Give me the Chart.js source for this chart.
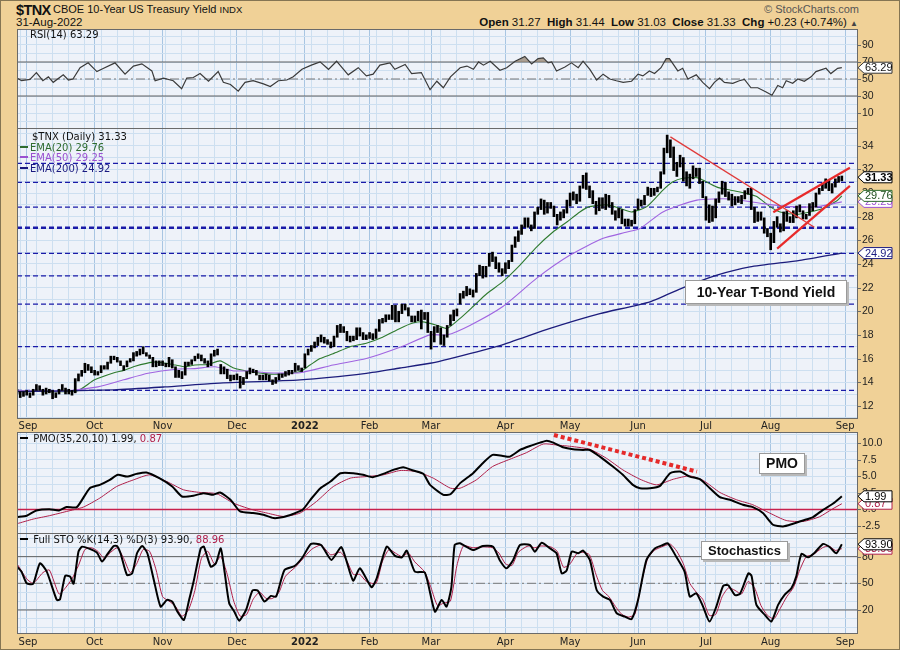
<!DOCTYPE html>
<html>
<head>
<meta charset="utf-8">
<title>$TNX - CBOE 10-Year US Treasury Yield</title>
<script src="https://cdn.jsdelivr.net/npm/chart.js@4.4.1/dist/chart.umd.min.js"></script>
<style>
  html, body { margin: 0; padding: 0; }
  body { width: 900px; height: 650px; background: #f0d197; position: relative; overflow: hidden; font-family: "DejaVu Sans", sans-serif; }
  #outer { position: absolute; left: 0; top: 0; width: 898px; height: 648px; border: 1px solid #857553; pointer-events: none; z-index: 6; }
  canvas { position: absolute; left: 0; }
  .t { position: absolute; white-space: nowrap; z-index: 4; line-height: 14px; color: #111; }
  .legend { font: 10px "DejaVu Sans", sans-serif; line-height: 12px; }
  .mark { display: inline-block; width: 8px; height: 2px; vertical-align: middle; margin-right: 2px; position: relative; top: -1px; }
  .note { position: absolute; box-sizing: border-box; background: #fff; border: 1px solid #9a9a9a; box-shadow: 2px 2px 0 #b9b9b9;
          font: bold 14px "Liberation Sans", Arial, sans-serif; color: #111; z-index: 4; text-align: center; }
</style>
</head>
<body>
<div id="outer"></div>

<div class="t" style="left:16px;top:2px;font:bold 14.5px 'Liberation Sans',sans-serif;letter-spacing:-0.6px;line-height:16px;">$TNX</div>
<div class="t" style="left:53px;top:3px;font:11px 'Liberation Sans',sans-serif;">CBOE 10-Year US Treasury Yield <span style="font-size:9.5px">INDX</span></div>
<div class="t" style="left:16px;top:16px;font:11.5px 'Liberation Sans',sans-serif;">31-Aug-2022</div>
<div class="t" style="right:41px;top:3px;font:11px 'Liberation Sans',sans-serif;color:#555;">&copy; StockCharts.com</div>
<div class="t" style="right:42px;top:16px;font:11.5px 'Liberation Sans',sans-serif;"><b>Open</b> 31.27 &nbsp;<b>High</b> 31.44 &nbsp;<b>Low</b> 31.03 &nbsp;<b>Close</b> 31.33 &nbsp;<b>Chg</b> +0.23 (+0.74%) <span style="font-size:8px;color:#444">&#9650;</span></div>

<canvas id="rsi" width="900" height="99" style="top:29px"></canvas>
<canvas id="price" width="900" height="304" style="top:128px"></canvas>
<canvas id="pmo" width="900" height="101" style="top:432px"></canvas>
<canvas id="sto" width="900" height="116" style="top:533px"></canvas>

<div class="t legend" style="left:30px;top:29px;">RSI(14) 63.29</div>
<div class="t legend" style="left:32px;top:131px;">$TNX (Daily) 31.33</div>
<div class="t legend" style="left:20px;top:142px;color:#2e6b2e;"><span class="mark" style="background:#2e6b2e"></span>EMA(20) 29.76</div>
<div class="t legend" style="left:20px;top:152px;color:#9a50d0;"><span class="mark" style="background:#9a50d0"></span>EMA(50) 29.25</div>
<div class="t legend" style="left:20px;top:163px;color:#1a1a80;"><span class="mark" style="background:#1a1a80"></span>EMA(200) 24.92</div>
<div class="t legend" style="left:20px;top:433px;"><span class="mark" style="background:#000"></span> PMO(35,20,10) 1.99, <span style="color:#b0204a">0.87</span></div>
<div class="t legend" style="left:20px;top:534px;"><span class="mark" style="background:#000"></span> Full STO %K(14,3) %D(3) 93.90, <span style="color:#b0204a">88.96</span></div>

<div class="note" style="left:685px;top:280px;width:162px;height:24px;line-height:22px;">10-Year T-Bond Yield</div>
<div class="note" style="left:759px;top:453px;width:46px;height:21px;line-height:19px;">PMO</div>
<div class="note" style="left:701px;top:541px;width:87px;height:19px;line-height:17px;font-size:13px;">Stochastics</div>

<script>
// ---- time axis: trading-day index, month starts ----
const monthTicks = [3, 24, 45, 68, 89, 109, 128, 151, 171, 192, 213, 233, 256];
const monthLabels = ['Sep', 'Oct', 'Nov', 'Dec', '2022', 'Feb', 'Mar', 'Apr', 'May', 'Jun', 'Jul', 'Aug', 'Sep'];

// ---- daily bars (x10 yield), Aug 27 2021 .. Aug 31 2022 ----
const hi = [
  13.4,13.2,13.2,
  13.3,13.1,13.4,13.8,13.7,13.4,13.5,13.4,13.3,13.1,13.4,13.8,13.5,13.4,13.3,14.3,14.7,15.0,15.6,15.5,15.3,
  15.0,14.9,15.4,15.4,15.7,16.2,16.2,16.1,15.8,15.4,15.8,16.0,16.5,16.6,16.8,17.0,16.5,16.3,16.1,15.8,15.8,
  15.8,15.6,16.1,15.9,15.3,15.0,14.9,15.7,15.7,15.9,16.2,16.4,16.3,16.0,15.8,16.4,16.7,16.8,15.5,15.3,15.1,14.6,
  14.6,14.7,14.5,14.4,14.9,15.2,15.1,15.0,14.6,14.6,14.7,14.6,14.2,14.4,14.7,14.7,14.9,15.0,15.0,15.6,15.4,15.2,
  16.4,16.8,17.1,17.4,17.8,18.0,17.8,17.6,17.4,17.9,18.8,18.9,18.7,18.3,17.9,17.9,18.6,18.6,18.2,18.0,
  18.2,18.1,18.5,19.3,19.4,19.7,19.7,20.5,20.5,20.0,20.6,20.6,20.3,19.6,19.6,20.0,20.1,19.9,19.9,
  18.3,18.7,18.8,18.6,18.0,18.8,19.7,20.1,20.2,21.5,21.7,22.1,21.9,21.8,23.2,23.9,23.8,23.8,24.9,25.0,24.6,24.1,23.6,
  24.1,24.3,25.6,26.3,26.8,27.3,27.9,27.9,27.3,28.4,28.8,29.5,29.4,29.2,29.2,28.9,28.2,28.4,28.6,29.4,
  30.0,30.1,29.9,30.6,31.5,31.7,30.6,30.2,29.3,29.6,29.6,29.9,29.8,29.2,28.5,28.7,28.6,27.8,27.8,27.7,28.6,
  29.5,29.4,29.8,30.5,30.4,30.4,30.5,31.8,33.8,34.9,34.5,33.9,32.6,33.2,33.0,31.8,31.6,32.3,32.1,32.1,31.0,
  29.7,29.0,28.9,29.5,30.1,31.0,30.9,30.1,29.9,29.7,29.7,29.8,30.2,30.4,30.4,28.8,28.4,28.4,27.9,27.0,
  26.6,27.6,28.0,27.4,28.4,28.5,28.0,28.5,28.9,29.0,28.5,28.2,29.1,29.2,30.0,30.4,30.8,31.2,31.1,30.8,31.2,31.4,31.44
];
const lo = [
  13.0,12.7,12.8,
  12.9,12.7,12.9,13.3,13.3,12.9,13.0,13.1,12.6,12.7,13.0,13.3,13.0,13.0,12.9,13.1,14.1,14.5,14.8,15.0,14.8,
  14.6,14.6,14.8,15.1,15.1,15.6,15.9,15.7,15.4,15.0,15.3,15.7,15.8,16.2,16.3,16.4,16.2,16.0,15.3,15.3,15.4,
  15.4,15.3,15.3,15.2,14.4,14.4,14.3,14.6,15.4,15.5,15.8,16.0,15.8,15.6,15.3,15.4,16.2,16.3,14.7,14.7,14.3,14.1,
  14.2,14.2,13.5,13.8,14.3,14.7,14.8,14.6,14.2,14.2,14.2,14.1,13.8,13.9,14.2,14.4,14.5,14.6,14.7,14.9,15.0,14.9,
  15.2,16.3,16.6,16.9,17.1,17.4,17.3,17.2,16.9,17.0,17.8,18.2,18.2,17.5,17.4,17.5,17.6,17.9,17.6,17.6,
  17.7,17.6,17.7,18.3,19.0,19.1,19.3,19.3,19.1,19.1,19.8,20.1,19.6,19.1,19.1,19.2,18.5,19.3,18.2,
  16.8,17.4,18.2,17.2,17.1,17.8,18.8,19.2,19.6,20.6,21.1,21.3,21.4,21.2,21.6,23.0,22.8,22.9,23.8,24.2,23.6,23.3,23.0,
  23.2,23.6,24.2,25.4,25.9,26.5,27.1,27.1,26.8,27.0,28.2,28.6,28.2,28.3,28.7,28.0,27.3,27.7,27.9,28.3,
  28.9,29.4,29.1,29.3,30.4,30.3,29.6,29.1,28.2,28.5,28.7,28.6,28.8,28.2,27.7,27.9,27.4,27.2,27.2,27.2,27.4,
  28.6,28.9,29.0,29.8,29.7,29.8,30.1,30.4,31.6,33.4,33.0,31.9,31.4,32.2,31.0,30.6,30.4,31.2,31.4,30.8,29.6,
  27.7,27.5,27.6,27.9,29.2,29.9,29.7,29.4,28.9,29.0,29.2,29.1,29.5,29.9,28.6,27.5,27.6,27.7,26.6,26.3,
  25.2,25.8,27.1,26.7,26.8,27.6,27.5,27.5,27.9,28.4,27.8,27.8,28.1,28.5,28.8,29.9,30.2,30.4,30.2,30.0,30.5,30.9,31.03
];

// ---- moving averages [day, value] ----
const ema20 = [[0,13.3],[8,13.2],[14,13.2],[19,13.3],[24,14.2],[30,14.8],[33,15.0],[36.5,15.35],[42,15.7],[45,15.65],[49,15.45],[52,15.3],[55,15.45],[59,15.5],[62.8,15.8],[67,15.2],[72,14.9],[77,14.7],[82,14.7],[87.5,14.9],[90.6,15.45],[93.7,16.0],[97.7,16.4],[103,17.0],[108,17.3],[113,17.8],[118.4,18.55],[122.4,19.0],[125.5,19.1],[130,18.8],[133,18.55],[137,19.4],[141,20.4],[145.3,21.5],[150.2,22.5],[155.5,23.9],[160.7,25.45],[165.7,26.7],[170,27.55],[174,28.4],[177,28.85],[182.4,29.0],[186.4,28.7],[190,28.4],[194.7,28.85],[199.7,30.25],[202.8,30.95],[205.9,31.25],[210.2,31.3],[212,31.1],[216.4,30.5],[220.4,30.25],[225.7,29.95],[228.7,29.7],[232.8,28.85],[235.9,28.4],[241.1,28.2],[245.1,28.4],[249.1,28.7],[253.5,29.35],[255,29.76]];
const ema50 = [[0,13.3],[14,13.25],[25,13.6],[33,14.2],[40.5,14.75],[49,15.1],[55,15.15],[61.2,15.3],[67,14.95],[72,14.95],[77.3,14.8],[87.5,14.8],[97.7,15.45],[108,16.0],[118.4,16.95],[127.7,18.0],[133,18.0],[140,18.8],[150.2,20.4],[160.7,22.8],[171,24.75],[181,26.15],[188.6,26.7],[192.6,27.0],[199.7,28.4],[210.2,29.4],[220.4,29.5],[230.6,29.1],[239,28.85],[247.3,28.85],[255,29.25]];
const ema200 = [[0,13.2],[30,13.35],[45.7,13.6],[61.2,13.9],[87.5,14.2],[108,14.75],[118.4,15.2],[127.7,15.6],[134,16.0],[149.3,17.1],[164.8,18.55],[180.2,19.8],[195.7,20.8],[206,22.0],[216.4,23.05],[226.6,23.75],[242,24.3],[255,24.92]];

// ---- chartist annotations ----
const supportLevels = [32.5, 30.9, 28.8, 24.9, 23.0, 20.6, 17.0, 13.3];
const keyLevel = 27.06;
const downTrend = [202, 34.75, 246.5, 27.1];
const channelTop = [233.8, 28.37, 257.5, 32.14];
const channelBottom = [235, 25.3, 257.5, 30.6];
const pmoTrend = [166, 11.25, 210.2, 5.72];

// ---- indicators [day, value] ----
const rsi = [[0,51.1],[1.4,48],[4,49.6],[6,57.6],[8,48],[9.7,52.6],[11.2,46.1],[14.3,54.9],[15.9,48.8],[17.3,50],[19.5,63.3],[22,69],[24.7,58.7],[26.8,62.6],[30.3,69],[33.4,55.7],[36,65.2],[38.6,67.8],[41.7,59.5],[42.7,48],[45.3,51.1],[48.3,48],[50.9,38.6],[52.5,51.1],[54.5,51.8],[56.6,56.4],[59.2,47.4],[62.2,58.7],[63.8,46.1],[66,43.5],[68.4,35.8],[70.5,46.1],[73,48],[76.2,44.3],[78.3,41.2],[80.8,48],[83.4,48.8],[85.4,52.6],[88.1,61.4],[91,66.3],[93.7,70.1],[96.3,61.4],[98.8,70.9],[102.4,54.9],[105.5,63.3],[108,53.7],[110.1,55.7],[112.2,66.3],[115.3,69],[116.8,61.4],[120,67.1],[122,56.4],[125,57.6],[127.7,37.4],[129.8,47.4],[131.8,39.7],[134,52.6],[137,63.3],[139.1,65.2],[141.1,61.4],[142.7,70.1],[144.2,66.3],[146.3,70.9],[149.3,60.3],[151.4,63.3],[154,70.9],[157,76.6],[159.1,67.8],[161.1,74],[162.7,74.8],[164.2,69],[165.3,70.1],[166.8,59.5],[169.4,64.1],[171.4,69],[173.5,63.3],[175,70.9],[177.1,61.4],[179.2,48.8],[181.2,55.7],[183.3,50],[185.3,48],[187.4,46.1],[190,47.4],[192,55.7],[193.5,53.7],[195.5,59.5],[197.1,56.4],[199.1,63.3],[200.7,74],[201.7,74],[204.3,59.5],[205.8,62.6],[207.4,50],[210,54.9],[212,46.1],[214.1,38.6],[215.6,46.1],[217.2,51.1],[218.7,46.1],[221.3,45],[223.3,48],[224.9,49.6],[226.9,39.7],[229,39.7],[231.6,34.7],[233.4,30.9],[235.2,42.3],[236.7,39.7],[237.8,48],[239.8,45],[241.4,50],[243.4,47.4],[245.5,52.6],[247,58.7],[250.1,62.6],[251.6,56.4],[253.7,62.6],[255,63.29]];
const rsiLevels = [70, 30];

const pmo = [[0,-1.14],[3,-0.94],[6,-0.15],[10,0.05],[13,-0.15],[15.3,0.36],[18.5,0.36],[22.5,3.22],[25.6,3.72],[28.7,4.47],[31.2,5.23],[34,4.97],[37,5.38],[40,5.58],[44,4.73],[48,3.47],[51,1.96],[54.5,2.06],[57.6,2.47],[60.7,2.22],[62.8,2.57],[66,1.46],[69,-0.3],[73,-0.54],[76.2,-0.8],[79.3,-1.3],[82.4,-1.14],[85.5,-0.65],[88.3,-0.05],[90.7,1.46],[93.8,3.22],[96.9,4.22],[100,5.48],[104,5.48],[107,5.23],[110,4.88],[113.2,5.38],[116.3,5.98],[119.4,6.39],[122.5,5.88],[125.6,5.38],[127.7,3.72],[131.8,2.22],[134,2.3],[137,3.98],[141,5.48],[144,6.99],[147,8.24],[150.2,8.09],[152.4,7.99],[155.5,8.99],[158.6,9.59],[161.7,10.09],[163.8,10.39],[165.8,10.09],[168.8,9.4],[171.9,9.09],[175,8.99],[177.1,8.99],[180.2,7.99],[184.2,6.48],[187.3,5.23],[190.4,3.72],[192.6,3.22],[195.7,3.22],[198.8,3.57],[201.9,5.48],[205,5.73],[208,4.97],[211.1,4.57],[214.2,3.22],[217.3,1.87],[220.4,1.46],[224.4,0.71],[227.5,0.36],[230.6,-0.54],[233.7,-2.3],[236.8,-2.56],[239.9,-2.15],[243,-1.66],[246.1,-1.14],[249.2,-0.05],[252.2,0.86],[255,1.99]];
const pmoSignal = [[0,-2.15],[5,-1.45],[10,-0.94],[15.3,-0.3],[20.5,0.36],[25.6,1.72],[30.8,3.47],[36,4.47],[41,5.23],[46.3,4.22],[51.5,2.97],[56.6,2.57],[61.8,2.37],[66.9,0.96],[72.2,0.05],[77.3,-0.54],[82.4,-1.05],[87.5,-0.54],[92.6,1.21],[97.8,3.47],[103,4.73],[108,4.97],[113.2,5.23],[118.4,5.88],[123.5,5.73],[128.7,4.73],[134,3.22],[137,3.22],[142,4.47],[147,6.48],[152.4,7.59],[157.5,8.58],[162.7,9.89],[166.8,9.74],[171.9,9.49],[177.1,9.09],[182.2,7.74],[187.3,5.98],[192.6,4.57],[197.7,3.72],[202.9,4.57],[208,5.07],[212.2,4.37],[217.3,2.57],[222.5,1.46],[227.5,0.71],[232.7,-0.54],[237.8,-1.66],[243,-1.81],[248.1,-1.1],[252,0.05],[255,0.87]];

const stoK = [[0,68.75],[1.4,63.1],[3,50.1],[5,49.5],[7.1,72.6],[9.2,63.1],[12.3,31.3],[13.3,32],[14.9,58.3],[16.4,57.6],[17.5,49.5],[19,85.6],[20.1,91.2],[22.1,89.3],[24.7,84.5],[26.3,74.4],[27.8,81.9],[29.9,92],[30.9,92],[32,83.8],[34,59.4],[35.6,61.2],[37.1,83.8],[38.7,92],[40.3,83.8],[42.3,53.8],[44.4,23.8],[46.4,31.3],[48,29.4],[49.6,18.1],[51.6,8.8],[53.2,31.3],[54.7,53.8],[56.8,89.3],[57.8,91.2],[59.9,68.75],[61.5,72.6],[63,89.3],[64.1,65],[65.6,27.6],[67.2,18.1],[68.7,8],[70.8,20],[72.8,41.8],[74.4,41.8],[76.5,29.4],[78.5,35.8],[80.1,35],[82.7,65],[85.8,69.5],[88.3,79.3],[90.9,94.3],[94,93.1],[97.2,76.3],[100.3,90.6],[103.9,53],[106,66.9],[109.6,45.6],[111.2,55.7],[114.3,91.2],[116.9,80.8],[119,79.3],[120.5,86.8],[123,63.1],[126.1,62],[129.2,18.1],[131.3,31.3],[132.8,23.8],[134.3,46],[135.3,93.1],[136.9,95],[141,87.5],[144,92],[147.2,91.2],[149.2,76.3],[151.3,66.9],[153.4,76.3],[155.5,93.1],[158.6,93.1],[160.1,85.6],[162.2,95.7],[164.8,89.3],[166.8,83.8],[168.4,61.2],[169.9,64.2],[171.5,85.6],[173.5,83.8],[175,86.8],[177.1,76.3],[179.2,42.5],[181.2,35],[183.3,31.3],[185.4,16.3],[187.9,12.5],[190,9.6],[192,31.3],[194.6,76.3],[197.2,89.3],[199.7,93.1],[201.2,95],[203.8,80],[206.4,63.1],[208,35],[210,38.8],[212.1,23.8],[214.1,6.9],[216.2,23.8],[218.3,47],[219.9,47.8],[221.9,36.9],[223.5,38.1],[226.1,61.2],[227.1,58.3],[228.6,25.7],[231.2,14.4],[233.2,6.9],[235.3,25.7],[237.3,36.9],[239.4,44.4],[240.9,57.5],[242.5,83],[244.6,79.3],[246.6,84.5],[249.2,94.3],[251.3,90.6],[253.3,83.8],[255,93.9]];
const stoD = [[0,72],[3,55],[5,50],[8,62],[10,65],[13,38],[15,45],[17,55],[19,70],[21,88],[23,90],[25,86],[27,78],[29,85],[31,90],[33,78],[35,62],[37,72],[39,88],[41,86],[43,65],[45,35],[47,30],[49,24],[51,13],[53,20],[55,42],[57,78],[59,86],[61,72],[63,80],[65,60],[67,30],[69,13],[71,15],[73,32],[75,40],[77,33],[79,33],[81,40],[83,58],[86,68],[88,76],[91,88],[94,93],[97,82],[100,85],[102,75],[104,60],[106,60],[108,52],[111,50],[113,75],[115,88],[117,84],[119,80],[121,84],[123,74],[126,63],[128,45],[130,25],[132,28],[134,30],[136,70],[138,92],[141,90],[144,91],[147,90],[149,84],[151,72],[153,70],[155,85],[158,92],[160,90],[162,92],[165,91],[167,86],[169,68],[171,72],[173,83],[175,85],[177,82],[179,60],[181,42],[183,35],[185,24],[187,15],[189,12],[191,15],[193,50],[195,78],[197,87],[200,92],[202,94],[204,86],[206,72],[208,50],[210,40],[212,32],[214,14],[216,15],[218,35],[220,45],[222,42],[224,38],[226,52],[228,45],[230,25],[232,14],[234,10],[236,22],[238,35],[240,45],[242,65],[244,80],[246,82],[249,90],[251,92],[253,87],[255,88.96]];
const stoLevels = [80, 20];

// ---- axis ranges ----
const xMin = 0, xMax = 260;
const BG = '#eef2f9', GRID = '#cddff0', GRID_MONTH = '#a8c5e2';
const CRIMSON = '#b0204a';

const weekGrid = [];
for (let v = 1; v < xMax; v += 5) weekGrid.push(v);

function pts(arr) { return arr.map(([x, y]) => ({ x, y })); }

function hLine(value, color, width, dash, order) {
  return { type: 'line', data: [{ x: xMin, y: value }, { x: xMax, y: value }], borderColor: color, borderWidth: width,
           borderDash: dash || [], pointRadius: 0, fill: false, order: order === undefined ? 6 : order };
}
function seg(s, color, width, dash, order) {
  return { type: 'line', data: [{ x: s[0], y: s[1] }, { x: s[2], y: s[3] }], borderColor: color, borderWidth: width,
           borderDash: dash || [], pointRadius: 0, fill: false, order: order === undefined ? 0 : order };
}
function series(arr, color, width, order, extra) {
  return Object.assign({ type: 'line', data: pts(arr), borderColor: color, borderWidth: width, pointRadius: 0,
                         tension: 0.2, fill: false, order: order }, extra || {});
}

function xScale() {
  return {
    type: 'linear', min: xMin, max: xMax, offset: false,
    border: { display: false },
    grid: { drawTicks: false, offset: false, color: c => (c.tick && monthTicks.includes(c.tick.value)) ? GRID_MONTH : GRID },
    ticks: { display: false },
    afterBuildTicks: s => { s.ticks = weekGrid.concat(monthTicks).map(v => ({ value: v })); }
  };
}
function yScale(min, max, step) {
  return {
    type: 'linear', position: 'right', min, max,
    border: { display: false },
    grid: { drawTicks: false, color: GRID },
    ticks: { display: false },
    afterBuildTicks: s => {
      const t = [];
      for (let k = Math.ceil(min / step); k * step <= max; k++) t.push({ value: k * step });
      s.ticks = t;
    },
    afterFit: s => { s.width = 42; }
  };
}

function drawTag(ctx, py, tag) {
  const h = 11, tip = 858, left = 864, right = 892;
  ctx.beginPath();
  ctx.moveTo(tip, py);
  ctx.lineTo(left, py - h / 2);
  ctx.lineTo(right, py - h / 2);
  ctx.lineTo(right, py + h / 2);
  ctx.lineTo(left, py + h / 2);
  ctx.closePath();
  ctx.fillStyle = '#fff';
  ctx.fill();
  ctx.strokeStyle = tag.stroke;
  ctx.lineWidth = 1;
  ctx.stroke();
  ctx.fillStyle = tag.color;
  ctx.font = (tag.bold ? 'bold ' : '') + '11px "Liberation Sans Narrow", "Liberation Sans", sans-serif';
  ctx.textAlign = 'left';
  ctx.textBaseline = 'middle';
  ctx.fillText(tag.text, left + 1, py + 0.5);
}

function panel(cfg) {
  return {
    id: 'panel',
    beforeDraw(chart) {
      const { ctx, chartArea: a } = chart;
      ctx.save();
      ctx.fillStyle = BG;
      ctx.fillRect(a.left, a.top, a.right - a.left, a.bottom - a.top);
      ctx.restore();
    },
    afterDraw(chart) {
      const { ctx, chartArea: a, scales } = chart;
      ctx.save();
      ctx.strokeStyle = '#6a6a6a';
      ctx.lineWidth = 1;
      ctx.strokeRect(a.left + 0.5, a.top + 0.5, a.right - a.left - 1, a.bottom - a.top);
      // right axis labels
      ctx.font = '10.5px "Liberation Sans Narrow", "Liberation Sans", sans-serif';
      ctx.fillStyle = '#222';
      ctx.textBaseline = 'middle';
      ctx.textAlign = 'left';
      cfg.labels.forEach(v => {
        const py = Math.round(scales.y.getPixelForValue(v)) + 0.5;
        ctx.beginPath(); ctx.moveTo(a.right, py); ctx.lineTo(a.right + 3, py); ctx.stroke();
        ctx.fillText(v.toFixed(cfg.decimals), a.right + 4, py);
      });
      // month labels under the panel
      if (cfg.months) {
        ctx.textAlign = 'center';
        monthTicks.forEach((v, i) => {
          const px = scales.x.getPixelForValue(v);
          const lab = monthLabels[i];
          ctx.font = (lab === '2022' ? 'bold ' : '') + '10px "DejaVu Sans", sans-serif';
          ctx.fillStyle = '#222';
          ctx.fillText(lab, Math.max(px, a.left + 11), a.bottom + cfg.months);
        });
      }
      (cfg.tags || []).forEach(t => drawTag(ctx, scales.y.getPixelForValue(t.v), t));
      ctx.restore();
    }
  };
}

function baseOptions(yMin, yMax, step, bottomPad) {
  return {
    responsive: false, animation: false, events: [],
    layout: { padding: { left: 17, right: 0, top: 0, bottom: bottomPad || 0 } },
    plugins: { legend: { display: false }, tooltip: { enabled: false } },
    scales: { x: xScale(), y: yScale(yMin, yMax, step) }
  };
}

// ---- RSI panel ----
new Chart(document.getElementById('rsi'), {
  type: 'line',
  data: {
    datasets: [
      series(rsi, '#3a3a3a', 1.2, 1, { tension: 0, fill: { target: { value: 70 }, above: 'rgba(150,132,112,0.75)', below: 'rgba(0,0,0,0)' } }),
      hLine(rsiLevels[0], '#5f5f5f', 1),
      hLine(rsiLevels[1], '#5f5f5f', 1),
      hLine(50, '#777', 1, [9, 3, 2, 3])
    ]
  },
  options: baseOptions(-7.6, 108.8, 10),
  plugins: [panel({ labels: [90, 70, 50, 30, 10], decimals: 0,
                    tags: [{ v: 63.29, text: '63.29', stroke: '#333', color: '#111' }] })]
});

// ---- price panel ----
const priceSets = [
  { type: 'bar', data: lo.map((l, i) => ({ x: i, y: [l, hi[i]] })), backgroundColor: '#000', borderWidth: 0,
    barThickness: 2, grouped: false, order: 2 },
  series(ema200, '#1c1c7c', 1.3, 3),
  series(ema50, '#a064e0', 1.1, 3),
  series(ema20, '#2e7a2e', 1.1, 3),
  hLine(keyLevel, '#1a1aa8', 2.4, [5, 3]),
  seg(downTrend, '#e03a3a', 1.3),
  seg(channelTop, '#e82a2a', 2.2),
  seg(channelBottom, '#e82a2a', 2.2)
];
supportLevels.forEach(v => priceSets.push(hLine(v, '#1a1aa8', 1.3, [5, 3])));

new Chart(document.getElementById('price'), {
  type: 'bar',
  data: { datasets: priceSets },
  options: baseOptions(10.97, 35.5, 1, 14),
  plugins: [panel({ labels: [12, 14, 16, 18, 20, 22, 24, 26, 28, 30, 32, 34], decimals: 0, months: 8,
                    tags: [
                      { v: 29.25, text: '29.25', stroke: '#9a50d0', color: '#9a50d0' },
                      { v: 29.76, text: '29.76', stroke: '#2e6b2e', color: '#1d4d1d' },
                      { v: 24.92, text: '24.92', stroke: '#1a1a80', color: '#1a1a80' },
                      { v: 31.33, text: '31.33', stroke: '#000', color: '#000', bold: true }
                    ] })]
});

// ---- PMO panel ----
new Chart(document.getElementById('pmo'), {
  type: 'line',
  data: {
    datasets: [
      series(pmoSignal, CRIMSON, 1, 2),
      series(pmo, '#000', 2, 1),
      hLine(0, '#c8204c', 1.3, [], 3),
      seg(pmoTrend, '#e52a2a', 4, [4, 3], 0)
    ]
  },
  options: baseOptions(-3.55, 11.7, 1.25),
  plugins: [panel({ labels: [10, 7.5, 5, 2.5, 0, -2.5], decimals: 1,
                    tags: [
                      { v: 0.87, text: '0.87', stroke: CRIMSON, color: CRIMSON },
                      { v: 1.99, text: '1.99', stroke: '#000', color: '#000' }
                    ] })]
});

// ---- Stochastics panel ----
new Chart(document.getElementById('sto'), {
  type: 'line',
  data: {
    datasets: [
      series(stoD, CRIMSON, 1, 2),
      series(stoK, '#000', 2, 1),
      hLine(stoLevels[0], '#5f5f5f', 1),
      hLine(stoLevels[1], '#5f5f5f', 1),
      hLine(50, '#777', 1, [9, 3, 2, 3])
    ]
  },
  options: baseOptions(-5.9, 106.6, 10, 16),
  plugins: [panel({ labels: [80, 50, 20], decimals: 0, months: 9,
                    tags: [
                      { v: 88.96, text: '88.96', stroke: CRIMSON, color: CRIMSON },
                      { v: 93.9, text: '93.90', stroke: '#000', color: '#000' }
                    ] })]
});
</script>
</body>
</html>
